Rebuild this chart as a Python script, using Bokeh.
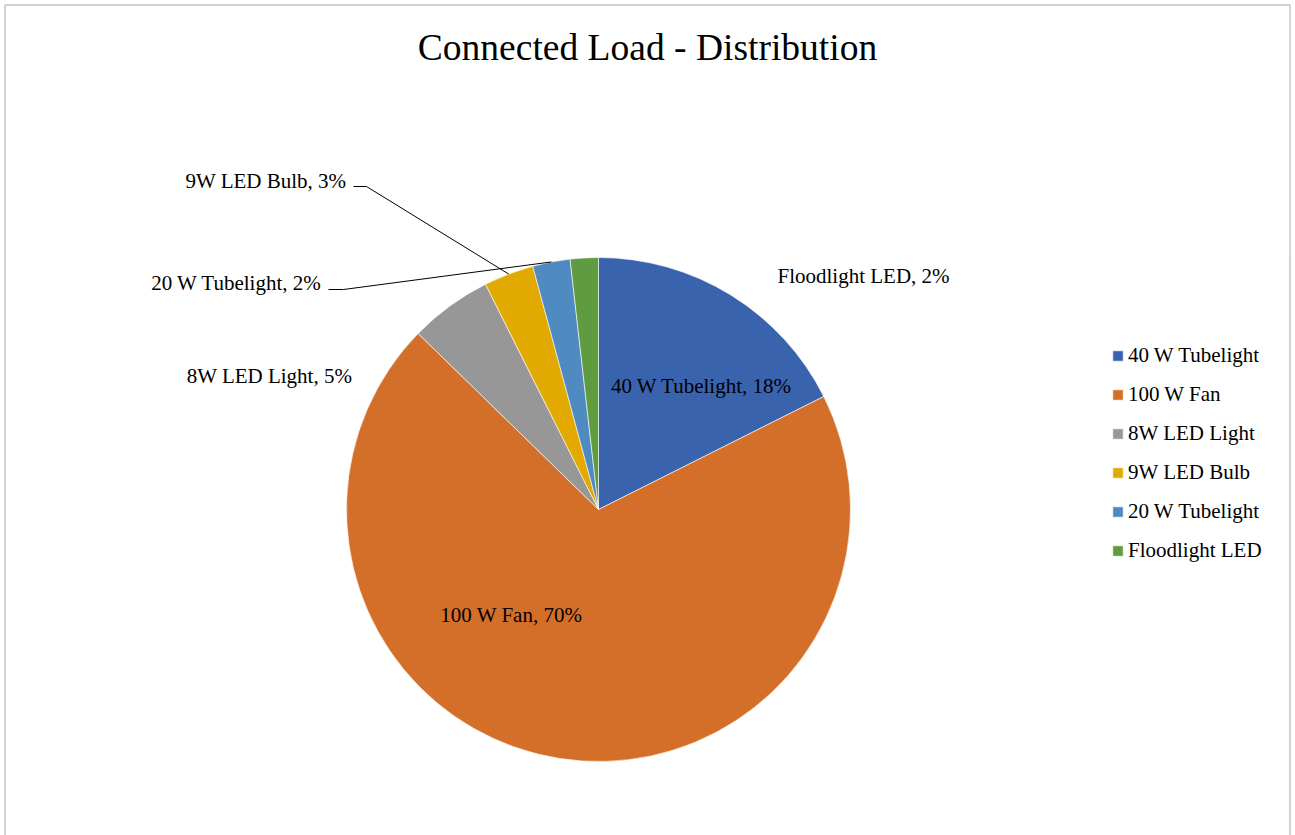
import math
from bokeh.plotting import figure
from bokeh.models import Range1d, Legend, LegendItem, Label, BoxAnnotation, ColumnDataSource
from bokeh.embed import file_html
from bokeh.resources import INLINE
from bokeh.core.properties import value

# ---- data ----
categories = ["40 W Tubelight", "100 W Fan", "8W LED Light", "9W LED Bulb", "20 W Tubelight", "Floodlight LED"]
shares = [17.6, 69.7, 5.3, 3.2, 2.4, 1.8]
colors = ["#3A63AD", "#D46F2A", "#979797", "#E2AA00", "#4F8AC0", "#5F9B41"]
title_text = "Connected Load - Distribution"

# ---- layout ----
W, H = 1295, 835
CX, CY, R = 598, H - 509, 252
FONT = "Liberation Serif"

total = sum(shares)
pcts = [v / total * 100 for v in shares]
cum = [0.0]
for v in shares:
    cum.append(cum[-1] + v / total)
start = [math.pi / 2 - 2 * math.pi * c for c in cum[:-1]]
end = [math.pi / 2 - 2 * math.pi * c for c in cum[1:]]
mid = [(s + e) / 2 for s, e in zip(start, end)]

p = figure(width=W, height=H, x_range=Range1d(0, W), y_range=Range1d(0, H),
           output_backend="svg", toolbar_location=None,
           x_axis_location=None, y_axis_location=None, min_border=0,
           outline_line_color=None)
p.grid.visible = False
p.background_fill_color = "white"
p.border_fill_color = "white"

src = ColumnDataSource(dict(cat=categories, start=start, end=end, color=colors))
wr = p.wedge(x=CX, y=CY, radius=R, start_angle="start", end_angle="end",
             direction="clock", fill_color="color", line_color="white",
             line_width=0.6, source=src)

# data labels (screen positions: centre x, baseline y)
label_pos = [(701, 385), (511, 614), (269, 375), (265.5, 180), (236, 282), (863, 275)]
lx = [pos[0] for pos in label_pos]
ly = [H - pos[1] for pos in label_pos]
ltext = [f"{c}, {round(v)}%" for c, v in zip(categories, pcts)]
p.text(x=lx, y=ly, text=ltext, text_font=value(FONT), text_font_size="21px",
       text_align="center", text_baseline="alphabetic", text_color="black")

# leader lines for 9W LED Bulb and 20 W Tubelight
leader_start = {3: [(353, 186), (366, 186)], 4: [(328, 289), (343, 289)]}
xs, ys = [], []
for i, pts in leader_start.items():
    rx = CX + R * math.cos(mid[i])
    ry = CY + R * math.sin(mid[i])
    xs.append([pt[0] for pt in pts] + [rx])
    ys.append([H - pt[1] for pt in pts] + [ry])
p.multi_line(xs=xs, ys=ys, line_color="black", line_width=1)

# title
p.add_layout(Label(x=647, y=H - 47, text=title_text, text_font=FONT,
                   text_font_size="37.5px", text_align="center",
                   text_baseline="alphabetic", text_color="black"))

# chart border
p.add_layout(BoxAnnotation(left=4.5, right=1289.5, top=H - 4.5, bottom=-20,
                           fill_color=None, line_color="#404040", line_width=1.5))

legend = Legend(items=[LegendItem(label=c, renderers=[wr], index=i) for i, c in enumerate(categories)],
                location=(1111, H - 562.5), padding=0, margin=0, spacing=14,
                glyph_width=13, glyph_height=13, label_height=21, label_standoff=4,
                label_text_font=FONT, label_text_font_size="21px",
                label_text_color="black",
                border_line_color=None, background_fill_alpha=0)
p.add_layout(legend)

open("out.html", "w").write(file_html(p, INLINE))
